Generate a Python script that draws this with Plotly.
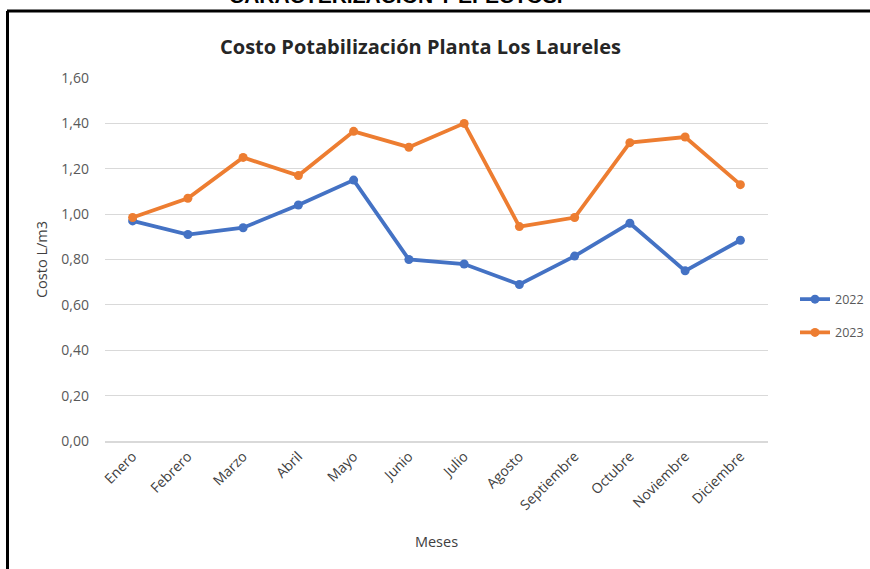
import plotly.graph_objects as go

# Monthly treatment cost per cubic metre, Los Laureles plant
meses = ["Enero", "Febrero", "Marzo", "Abril", "Mayo", "Junio", "Julio",
         "Agosto", "Septiembre", "Octubre", "Noviembre", "Diciembre"]
costo_2022 = [0.97, 0.91, 0.94, 1.04, 1.15, 0.80, 0.78, 0.69, 0.815, 0.96, 0.75, 0.885]
costo_2023 = [0.985, 1.07, 1.25, 1.17, 1.365, 1.295, 1.40, 0.945, 0.985, 1.315, 1.34, 1.13]
y_ticks = [0.0, 0.2, 0.4, 0.6, 0.8, 1.0, 1.2, 1.4, 1.6]

W, H = 870, 569
L, R, T, B = 105, 768, 78, 441  # plot area in pixels

def px_x(px):
    return (px - L) / (R - L)

def px_y(py):
    return (B - py) / (B - T)

FONT = "Open Sans, Lato, sans-serif"
GREY = "#595959"
DARK = "#404040"

fig = go.Figure()
fig.add_trace(go.Scatter(
    x=meses, y=costo_2022, name="2022", mode="lines+markers",
    line=dict(color="#4472C4", width=3.8),
    marker=dict(color="#4472C4", size=9), legendgroup="a"))
fig.add_trace(go.Scatter(
    x=meses, y=costo_2023, name="2023", mode="lines+markers",
    line=dict(color="#ED7D31", width=3.8),
    marker=dict(color="#ED7D31", size=9), legendgroup="b"))

fig.update_layout(
    width=W, height=H,
    margin=dict(l=L, r=W - R, t=T, b=H - B, autoexpand=False),
    paper_bgcolor="white", plot_bgcolor="white",
    separators=",.",
    font=dict(family=FONT, size=13, color=GREY),
    showlegend=True,
    legend=dict(x=px_x(869), y=px_y(316), xanchor="right", yanchor="middle",
                traceorder="grouped", tracegroupgap=14,
                font=dict(size=12.5, color=GREY), itemwidth=30,
                bgcolor="rgba(0,0,0,0)"),
    xaxis=dict(
        type="category", tickangle=-45, showgrid=False,
        showline=True, linecolor="#D9D9D9", linewidth=1.5,
        ticks="", tickfont=dict(size=14, color=DARK),
        title=dict(text="Meses", font=dict(size=14.5, color=DARK), standoff=24),
        range=[-0.5, len(meses) - 0.5]),
    yaxis=dict(
        range=[0, 1.6], tickvals=y_ticks, tickformat=".2f",
        showgrid=True, gridcolor="#D9D9D9", gridwidth=1.3,
        zeroline=False, showline=False, ticks="",
        tickfont=dict(size=14, color=GREY), ticklabelstandoff=15,
        title=dict(text="Costo L/m3", font=dict(size=14.5, color=DARK), standoff=10)),
)

# Chart title
fig.add_annotation(
    text="<b>Costo Potabilización Planta Los Laureles</b>",
    xref="paper", yref="paper", x=px_x(420), y=px_y(47),
    xanchor="center", yanchor="middle", showarrow=False,
    font=dict(family=FONT, size=20, color="#262626"))

# Section heading running off the top of the page
fig.add_annotation(
    text="<b>CARACTERIZACIÓN Y EFECTOS.</b>",
    xref="paper", yref="paper", x=px_x(396), y=px_y(-5),
    xanchor="center", yanchor="middle", showarrow=False,
    font=dict(family="Liberation Sans, Arial, sans-serif", size=21, color="black"))

# Frame around the chart (top and left edges visible)
fig.add_shape(type="line", xref="paper", yref="paper",
              x0=px_x(7), x1=px_x(880), y0=px_y(11), y1=px_y(11),
              line=dict(color="black", width=3))
fig.add_shape(type="line", xref="paper", yref="paper",
              x0=px_x(7.5), x1=px_x(7.5), y0=px_y(11), y1=px_y(580),
              line=dict(color="black", width=3))

fig.write_html("out.html")
